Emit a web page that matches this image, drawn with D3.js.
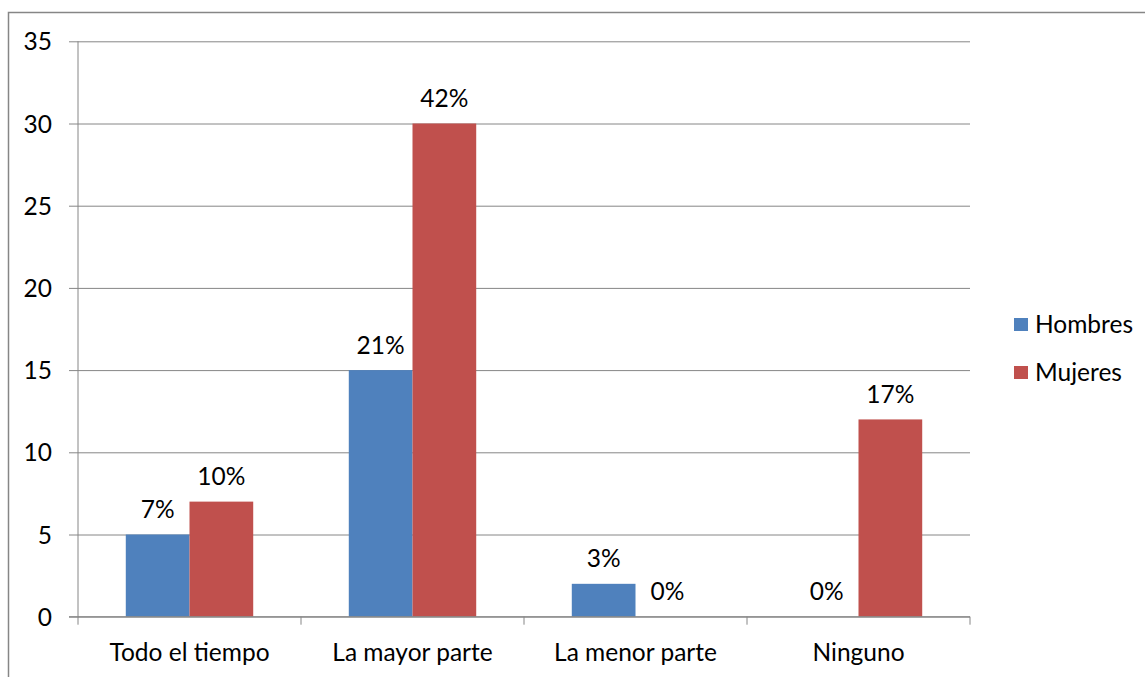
<!DOCTYPE html>
<html><head><meta charset="utf-8">
<script src="https://cdn.jsdelivr.net/npm/d3@7"></script>
<style>body{margin:0;background:#fff}svg{display:block}text{font-family:Lato,"Open Sans",sans-serif;fill:#000}</style>
</head><body><svg id="c" width="1145" height="677"></svg>
<script>
const categories = ["Todo el tiempo","La mayor parte","La menor parte","Ninguno"];
const seriesNames = ["Hombres","Mujeres"];
const hombres = [5,15,2,0];
const mujeres = [7,30,0,12];
const hombresLabels = ["7%","21%","3%","0%"];
const mujeresLabels = ["10%","42%","0%","17%"];
const yTicks = [0,5,10,15,20,25,30,35];
const colors = ["#4F81BD","#C0504D"];
const FS = "24.5px";

const svg = d3.select("#c");
const L = 78, R = 970, T = 41.3, B = 616.7;
svg.append("rect").attr("x",8.5).attr("y",12.5).attr("width",1200).attr("height",700)
  .attr("fill","none").attr("stroke","#868686").attr("stroke-width",1.5);

const x = d3.scaleBand().domain(categories).range([L,R]).paddingInner(0).paddingOuter(0);
const y = d3.scaleLinear().domain([0,35]).range([B,T]);
const inner = d3.scaleBand().domain(seriesNames).range([0,x.bandwidth()]).paddingInner(0).paddingOuter(0.75);

// gridlines + y axis
const yAxis = d3.axisLeft(y).tickValues(yTicks).tickSize(-(R-L)).tickPadding(0).tickFormat(d=>d);
const ga = svg.append("g").attr("transform",`translate(${L},0)`).call(yAxis);
ga.select(".domain").remove();
ga.selectAll(".tick line").attr("x1",-9).attr("stroke","#868686").attr("stroke-width",1);
ga.selectAll(".tick text").attr("x",-26).attr("dy","0.35em").style("font-size",FS).style("font-family","Lato,'Open Sans',sans-serif");
svg.append("line").attr("x1",L).attr("x2",L).attr("y1",T).attr("y2",B).attr("stroke","#868686");

// bars
const data = [hombres, mujeres];
const labels = [hombresLabels, mujeresLabels];
seriesNames.forEach((s,i)=>{
  const g = svg.append("g");
  g.selectAll("rect").data(categories).join("rect")
    .attr("x",c=>x(c)+inner(s)).attr("width",inner.bandwidth())
    .attr("y",(c,j)=>y(data[i][j])).attr("height",(c,j)=>B-y(data[i][j]))
    .attr("fill",colors[i]);
  g.selectAll("text").data(categories).join("text")
    .attr("x",c=>x(c)+inner(s)+inner.bandwidth()/2)
    .attr("y",(c,j)=>y(data[i][j])-25).attr("dy","0.35em")
    .attr("text-anchor","middle").style("font-size",FS)
    .text((c,j)=>labels[i][j]);
});

// x axis
const xAxis = d3.axisBottom(x).tickSize(0).tickPadding(0);
const gx = svg.append("g").attr("transform",`translate(0,${B})`).call(xAxis);
gx.select(".domain").remove();
gx.selectAll(".tick text").attr("y",36).attr("dy","0.35em").style("font-size",FS).style("font-family","Lato,'Open Sans',sans-serif");
svg.append("line").attr("x1",L-9).attr("x2",R).attr("y1",B).attr("y2",B).attr("stroke","#868686");
const bounds = categories.map(c=>x(c)).concat([R]);
svg.selectAll(".xt").data(bounds).join("line").attr("class","xt")
  .attr("x1",d=>d).attr("x2",d=>d).attr("y1",B).attr("y2",B+8).attr("stroke","#868686");

// legend
const lg = svg.append("g");
seriesNames.forEach((s,i)=>{
  lg.append("rect").attr("x",1014).attr("y",318+i*48).attr("width",14).attr("height",13).attr("fill",colors[i]);
  lg.append("text").attr("x",1035).attr("y",324.5+i*48).attr("dy","0.35em").style("font-size",FS).text(s);
});
</script></body></html>
